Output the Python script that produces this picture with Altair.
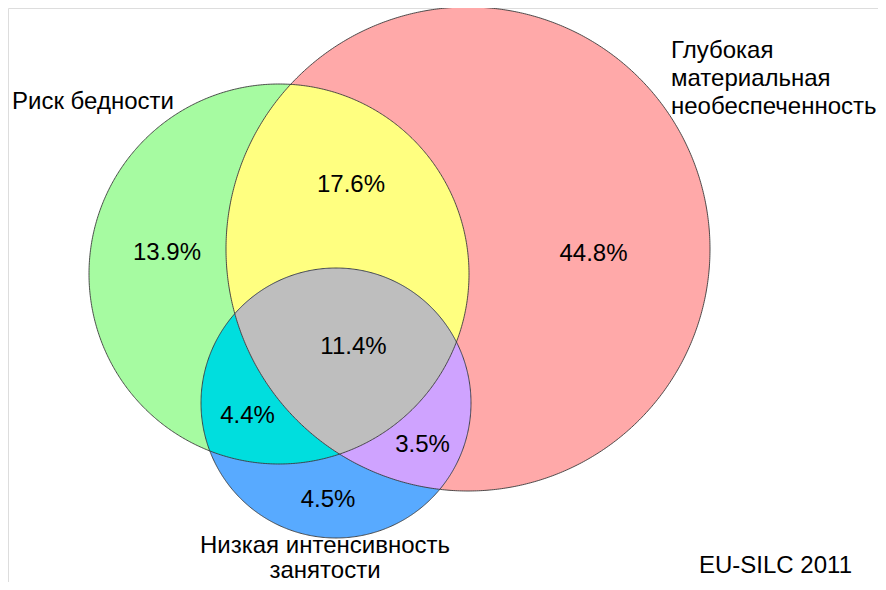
import altair as alt
import numpy as np
import pandas as pd

# --- Sets (circles of the Venn diagram, in picture units) ---
set_keys = ["G", "R", "B"]
circle_cx = [279, 468, 336]
circle_cy = [274, 249, 403]
circle_r = [190, 242, 135]

# --- Regions: which sets, value (%), fill colour ---
region_sets = [["G"], ["R"], ["B"], ["G", "R"], ["G", "B"], ["R", "B"], ["G", "R", "B"]]
region_values = [13.9, 44.8, 4.5, 17.6, 4.4, 3.5, 11.4]
region_colors = ["#A6FBA1", "#FFA9A9", "#58AAFF", "#FFFF80", "#00DEDE", "#CFA3FF", "#BEBEBE"]
region_label_x = [167, 593.5, 328, 351, 247.5, 422.5, 353.5]
region_label_y = [260, 261, 507, 192, 423, 451.5, 354]

# --- Set names (one row per text line, baseline positions) ---
name_lines = ["Риск бедности", "Глубокая", "материальная", "необеспеченность",
              "Низкая интенсивность", "занятости"]
name_x = [12, 671, 671, 671, 325, 325]
name_y = [109, 58, 86, 113.5, 553, 578]
name_align = ["left", "left", "left", "left", "center", "center"]

source_note = "EU-SILC 2011"
source_x, source_y = 775.5, 573

circ = {k: (cx, cy, r) for k, cx, cy, r in zip(set_keys, circle_cx, circle_cy, circle_r)}


def bounds(keys, x):
    lo = np.full_like(x, -np.inf)
    hi = np.full_like(x, np.inf)
    for k in keys:
        cx, cy, r = circ[k]
        d = r * r - (x - cx) ** 2
        h = np.sqrt(np.clip(d, 0, None))
        h[d < 0] = np.nan
        lo = np.maximum(lo, cy - h)
        hi = np.minimum(hi, cy + h)
    return lo, hi


def region_frame(keys):
    scan = np.arange(0, 900, 0.02)
    lo, hi = bounds(keys, scan)
    ok = np.isfinite(lo) & np.isfinite(hi) & (lo <= hi)
    xs = scan[ok]
    a, b = xs.min(), xs.max()
    t = np.linspace(0, np.pi, 600)
    x = a + (b - a) * (1 - np.cos(t)) / 2
    lo, hi = bounds(keys, x)
    ok = np.isfinite(lo) & np.isfinite(hi)
    return pd.DataFrame({"x": x[ok], "lo": lo[ok], "hi": np.maximum(hi[ok], lo[ok])})


W, H = 870, 574
xs = alt.Scale(domain=[8, 8 + W], nice=False, zero=False)
ys = alt.Scale(domain=[8, 8 + H], nice=False, zero=False, reverse=True)

layers = []
for keys, col in zip(region_sets, region_colors):
    df = region_frame(keys)
    layers.append(
        alt.Chart(df).mark_area(color=col, opacity=1, orient="vertical").encode(
            x=alt.X("x:Q", scale=xs, axis=None),
            y=alt.Y("lo:Q", scale=ys, axis=None),
            y2="hi:Q",
        )
    )

# outlines
rows = []
ang = np.linspace(0, 2 * np.pi, 721)
for k in set_keys:
    cx, cy, r = circ[k]
    for i, a in enumerate(ang):
        rows.append({"set": k, "i": i, "x": cx + r * np.cos(a), "y": cy + r * np.sin(a)})
outline = alt.Chart(pd.DataFrame(rows)).mark_line(color="#3a3a3a", strokeWidth=0.9).encode(
    x=alt.X("x:Q", scale=xs, axis=None),
    y=alt.Y("y:Q", scale=ys, axis=None),
    detail="set:N",
    order="i:Q",
)
layers.append(outline)

FONT = "Liberation Sans"
FS = 24

vals = pd.DataFrame({
    "label": [f"{v:.1f}%" for v in region_values],
    "x": region_label_x,
    "y": region_label_y,
})
layers.append(
    alt.Chart(vals).mark_text(font=FONT, fontSize=FS, color="black", align="center",
                              baseline="alphabetic").encode(
        x=alt.X("x:Q", scale=xs, axis=None),
        y=alt.Y("y:Q", scale=ys, axis=None),
        text="label:N",
    )
)

names = pd.DataFrame({"label": name_lines, "x": name_x, "y": name_y, "align": name_align})
for al in ["left", "center"]:
    layers.append(
        alt.Chart(names[names["align"] == al]).mark_text(
            font=FONT, fontSize=FS, color="black", align=al, baseline="alphabetic").encode(
            x=alt.X("x:Q", scale=xs, axis=None),
            y=alt.Y("y:Q", scale=ys, axis=None),
            text="label:N",
        )
    )

src = pd.DataFrame({"label": [source_note], "x": [source_x], "y": [source_y]})
layers.append(
    alt.Chart(src).mark_text(font=FONT, fontSize=FS, color="black", align="center",
                             baseline="alphabetic").encode(
        x=alt.X("x:Q", scale=xs, axis=None),
        y=alt.Y("y:Q", scale=ys, axis=None),
        text="label:N",
    )
)

chart = alt.layer(*layers).properties(
    width=W, height=H, padding=0, autosize=alt.AutoSizeParams(type="none")
).configure_view(stroke=None).configure(background="white")

chart.save("out.html", embed_options={"renderer": "svg", "actions": False})
